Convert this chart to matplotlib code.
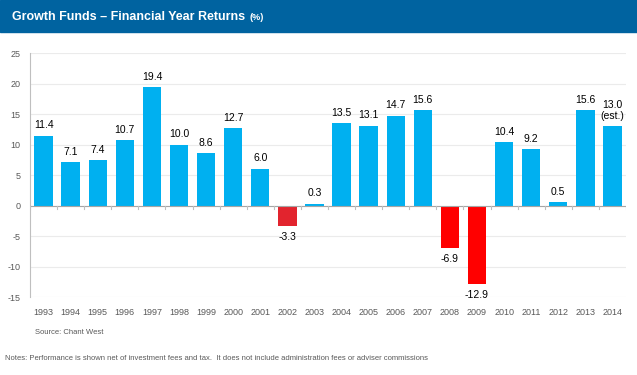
import numpy as np
import matplotlib.pyplot as plt
import matplotlib
from matplotlib.patches import Rectangle

matplotlib.rc('font', family='Liberation Sans')

years = ['1993', '1994', '1995', '1996', '1997', '1998', '1999', '2000', '2001', '2002', '2003',
         '2004', '2005', '2006', '2007', '2008', '2009', '2010', '2011', '2012', '2013', '2014']
returns = [11.4, 7.1, 7.4, 10.7, 19.4, 10.0, 8.6, 12.7, 6.0, -3.3, 0.3,
           13.5, 13.1, 14.7, 15.6, -6.9, -12.9, 10.4, 9.2, 0.5, 15.6, 13.0]
labels = ['11.4', '7.1', '7.4', '10.7', '19.4', '10.0', '8.6', '12.7', '6.0', '-3.3', '0.3',
          '13.5', '13.1', '14.7', '15.6', '-6.9', '-12.9', '10.4', '9.2', '0.5', '15.6', '13.0\n(est.)']
yticks = [-15, -10, -5, 0, 5, 10, 15, 20, 25]

colors = []
for i, v in enumerate(returns):
    if v >= 0:
        colors.append('#00B0F0')
    elif years[i] == '2002':
        colors.append('#E2242E')
    else:
        colors.append('#FF0000')

fig = plt.figure(figsize=(6.37, 3.75), dpi=100)

# header bar
fig.patches.append(Rectangle((0, 1 - 32/375), 1, 32/375, transform=fig.transFigure,
                             color='#0063A0', zorder=0))
t = fig.text(12/637, 1 - 17/375, 'Growth Funds \u2013 Financial Year Returns', color='white',
             fontsize=9, fontweight='bold', va='center', ha='left')
fig.canvas.draw()
bb = t.get_window_extent()
fig.text((bb.x1 + 4) / 637, 1 - 18/375, '(%)', color='white', fontsize=6.5,
         fontweight='bold', va='center', ha='left')

ax = fig.add_axes([30/637, 1 - 297/375, 596/637, 244/375])
x = np.arange(len(years))
ax.bar(x, returns, width=0.68, color=colors, zorder=3)

for xi, v, lab in zip(x, returns, labels):
    if v >= 0:
        ax.text(xi, v + 0.9, lab, ha='center', va='bottom', fontsize=7.5, color='black',
                linespacing=1.1)
    else:
        ax.text(xi, v - 1.0, lab, ha='center', va='top', fontsize=7.5, color='black')

ax.set_xlim(-0.5, len(years) - 0.5)
ax.set_ylim(-15, 25)
ax.set_yticks(yticks)
ax.set_yticklabels([str(t) for t in yticks], fontsize=6.5, color='#595959')
ax.set_xticks(x)
ax.set_xticklabels(years, fontsize=6.5, color='#595959')
ax.tick_params(axis='both', length=0)
ax.tick_params(axis='x', pad=8)
ax.tick_params(axis='y', pad=7)
ax.grid(axis='y', color='#EBEBEB', linewidth=0.8, zorder=0)
for s in ['top', 'right', 'bottom']:
    ax.spines[s].set_visible(False)
ax.spines['left'].set_color('#BFBFBF')
ax.axhline(0, color='#A6A6A6', linewidth=0.8, zorder=4)
# small ticks on zero line between bars
for b in np.arange(-0.5, len(years), 1.0):
    ax.plot([b, b], [0, -0.6], color='#BFBFBF', linewidth=0.8, zorder=4)

fig.text(35/637, 1 - 333/375, 'Source: Chant West', fontsize=5.5, color='#595959', va='center')
fig.text(5/637, 1 - 358/375, 'Notes: Performance is shown net of investment fees and tax.  It does not include administration fees or adviser commissions',
         fontsize=5.5, color='#595959', va='center')

plt.savefig('out.png', dpi=100)
